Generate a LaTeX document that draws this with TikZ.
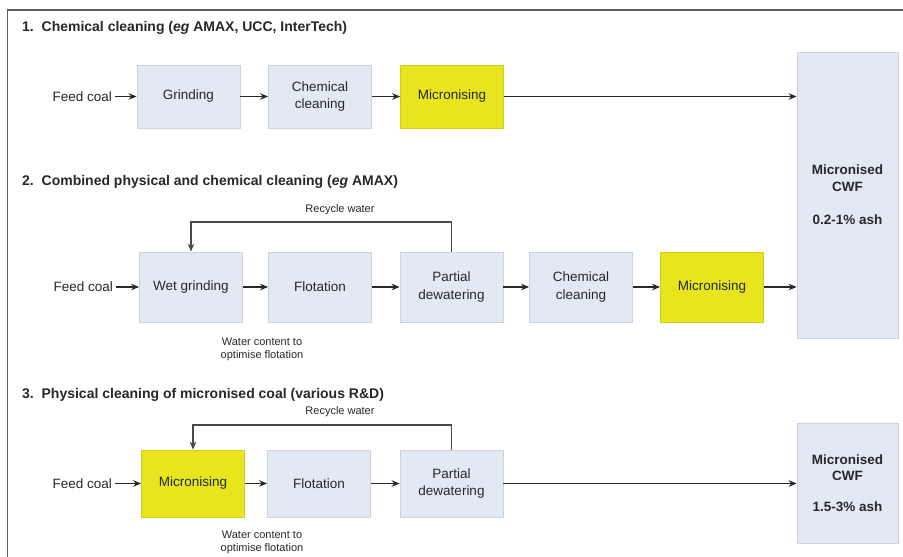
\documentclass[tikz,border=0pt]{standalone}
\usepackage{fontspec}
\setmainfont{Liberation Sans}
\usetikzlibrary{arrows.meta}
\definecolor{boxfill}{RGB}{226,233,242}
\definecolor{boxline}{RGB}{204,212,222}
\definecolor{micro}{RGB}{232,228,30}
\definecolor{frame}{RGB}{95,95,95}
\definecolor{ink}{RGB}{40,40,40}
\tikzset{
  stage/.style={draw=boxline, line width=0.8pt, fill=boxfill, minimum width=103pt,
    inner sep=0pt, align=center, font=\fontsize{13.5}{17.5}\selectfont, text=ink},
  microbox/.style={stage, fill=micro, draw=micro!90!black},
  producttext/.style={inner sep=0pt, font=\bfseries\fontsize{13.5}{16.5}\selectfont,
    text=ink, align=center},
  product/.style={producttext, draw=boxline, line width=0.8pt, fill=boxfill, minimum width=101pt},
  feed/.style={anchor=east, inner sep=0pt, font=\fontsize{13.5}{16}\selectfont, text=ink},
  heading/.style={anchor=west, inner sep=0pt, font=\bfseries\fontsize{14}{17}\selectfont, text=ink},
  note/.style={inner sep=0pt, align=center, font=\fontsize{11}{13}\selectfont, text=ink},
  flow/.style={draw=ink, line width=1.3pt, -{Stealth[length=8pt,width=6.5pt]}},
  recycle/.style={draw=ink!85, line width=1.6pt, -{Stealth[length=8pt,width=6.5pt]}}
}
\begin{document}
\begin{tikzpicture}[x=1pt,y=-1pt]
\useasboundingbox (0,0) rectangle (903,557);
\fill[white] (0,0) rectangle (903,557);

% open frame along top and left
\draw[frame, line width=1.6pt] (7.5,557) -- (7.5,10) -- (903,10);

% ---------- 1. chemical cleaning ----------
\node[heading] (h1) at (22,28) {1.\ \ Chemical cleaning (\textit{eg} AMAX, UCC, InterTech)};
\node[stage, minimum height=63pt] (gr1) at (188.5,96.5) {Grinding};
\node[stage, minimum height=63pt] (cc1) at (320,96.5) {Chemical\\cleaning};
\node[microbox, minimum height=63pt] (mi1) at (452,96.5) {Micronising};
\node[feed] (fc1) at (112,96.5) {Feed coal};
\node[product, minimum height=286pt] (cwf1) at (847.5,195) {};
\node[producttext, anchor=north] (cwft1) at (847.5,165) {Micronised\\CWF\\[17pt]0.2-1\% ash};

\draw[flow] (fc1.east) ++(3,0) -- (gr1.west);
\draw[flow] (gr1) -- (cc1);
\draw[flow] (cc1) -- (mi1);
\draw[flow] (mi1.east) -- (mi1.east -| cwf1.west);

% ---------- 2. combined physical and chemical cleaning ----------
\node[heading] (h2) at (22,182) {2.\ \ Combined physical and chemical cleaning (\textit{eg} AMAX)};
\node[stage, minimum height=70pt] (wg2) at (191,287) {Wet grinding};
\node[stage, minimum height=70pt] (fl2) at (320,287) {Flotation};
\node[stage, minimum height=70pt] (pd2) at (451.5,287) {Partial\\dewatering};
\node[stage, minimum height=70pt] (cc2) at (581,287) {Chemical\\cleaning};
\node[microbox, minimum height=70pt] (mi2) at (712,287) {Micronising};
\node[feed] (fc2) at (113,287) {Feed coal};
\node[note] (rw2) at (340,210) {Recycle water};
\node[note] (wc2) at (262,349.5) {Water content to\\optimise flotation};
\coordinate (loop2) at (0,222);

\draw[flow] (fc2.east) ++(3,0) -- (wg2.west);
\draw[flow] (wg2) -- (fl2);
\draw[flow] (fl2) -- (pd2);
\draw[flow] (pd2) -- (cc2);
\draw[flow] (cc2) -- (mi2);
\draw[flow] (mi2.east) -- (mi2.east -| cwf1.west);
\draw[recycle] (pd2.north) -- (pd2.north |- loop2) -| (wg2.north);

% ---------- 3. physical cleaning of micronised coal ----------
\node[heading] (h3) at (22,395) {3.\ \ Physical cleaning of micronised coal (various R\&D)};
\node[microbox, minimum height=67pt] (mi3) at (193,483.5) {Micronising};
\node[stage, minimum height=67pt] (fl3) at (319,483.5) {Flotation};
\node[stage, minimum height=67pt] (pd3) at (451.5,483.5) {Partial\\dewatering};
\node[feed] (fc3) at (112,483.5) {Feed coal};
\node[product, minimum height=120pt] (cwf3) at (847.5,483) {Micronised\\CWF\\[14pt]1.5-3\% ash};
\node[note] (rw3) at (340,412) {Recycle water};
\node[note] (wc3) at (262,542.5) {Water content to\\optimise flotation};
\coordinate (loop3) at (0,425);

\draw[flow] (fc3.east) ++(3,0) -- (mi3.west);
\draw[flow] (mi3) -- (fl3);
\draw[flow] (fl3) -- (pd3);
\draw[flow] (pd3.east) -- (pd3.east -| cwf3.west);
\draw[recycle] (pd3.north) -- (pd3.north |- loop3) -| (mi3.north);
\end{tikzpicture}
\end{document}
